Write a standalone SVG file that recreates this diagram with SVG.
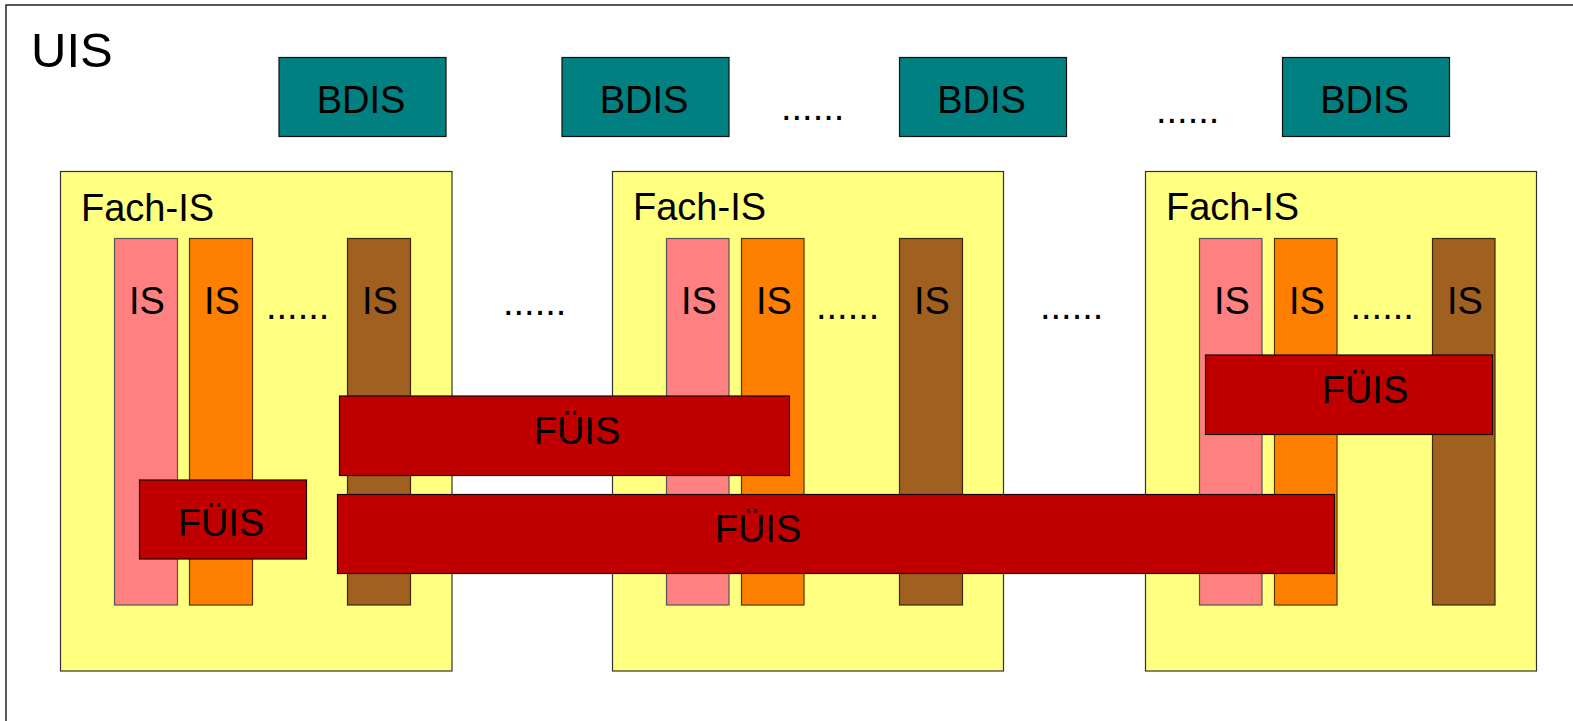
<svg xmlns="http://www.w3.org/2000/svg" width="1573" height="721" viewBox="0 0 1573 721">
<style>
text{font-family:"Liberation Sans",Arial,sans-serif;fill:#000;font-size:38px}
.mid{text-anchor:middle}
.frame{fill:#fff;stroke:#222;stroke-width:1.5}
.bdis{fill:#008080;stroke:#111;stroke-width:1.2}
.fach{fill:#FFFF80;stroke:#333;stroke-width:1.2}
.pink{fill:#FF8080;stroke:#555;stroke-width:1.2}
.orange{fill:#FF8000;stroke:#553300;stroke-width:1.2}
.brown{fill:#A06020;stroke:#40260c;stroke-width:1.2}
.fuis{fill:#C00000;stroke:#1a0000;stroke-width:1.2}
</style>
<rect x="0" y="0" width="1573" height="721" fill="#fff"/>
<g id="uis">
<rect class="frame" x="6" y="5" width="1600" height="760"/>
<text x="31" y="66.7" style="font-size:49px">UIS</text>
</g>
<g id="bdis1"><rect class="bdis" x="279" y="57.5" width="167" height="79"/><text class="mid" x="361" y="112.7">BDIS</text></g>
<g id="bdis2"><rect class="bdis" x="562" y="57.5" width="167" height="79"/><text class="mid" x="644" y="112.7">BDIS</text></g>
<g id="bdis3"><rect class="bdis" x="899.5" y="57.5" width="167" height="79"/><text class="mid" x="981.5" y="112.7">BDIS</text></g>
<g id="bdis4"><rect class="bdis" x="1282.5" y="57.5" width="167" height="79"/><text class="mid" x="1364.5" y="112.7">BDIS</text></g>
<g id="dots-top">
<text x="781" y="120">......</text>
<text x="1156" y="123">......</text>
</g>
<g id="fach1">
<rect class="fach" x="60.5" y="171.5" width="391.5" height="499.5"/>
<text x="81" y="220.5">Fach-IS</text>
<rect class="pink" x="114.5" y="238.5" width="63" height="366.5"/>
<text class="mid" x="147" y="314">IS</text>
<rect class="orange" x="189.5" y="238.5" width="63" height="366.5"/>
<text class="mid" x="222" y="314">IS</text>
<text x="266" y="319.3">......</text>
<rect class="brown" x="347.5" y="238.5" width="63" height="366.5"/>
<text class="mid" x="380" y="314">IS</text>
</g>
<g id="fach2">
<rect class="fach" x="612.5" y="171.5" width="391" height="499.5"/>
<text x="633" y="220">Fach-IS</text>
<rect class="pink" x="666.5" y="238.5" width="62.5" height="366.5"/>
<text class="mid" x="699" y="314">IS</text>
<rect class="orange" x="741.5" y="238.5" width="62.5" height="366.5"/>
<text class="mid" x="774" y="314">IS</text>
<text x="816" y="319.3">......</text>
<rect class="brown" x="899.5" y="238.5" width="63" height="366.5"/>
<text class="mid" x="932" y="314">IS</text>
</g>
<g id="fach3">
<rect class="fach" x="1145.5" y="171.5" width="391" height="499.5"/>
<text x="1166" y="220">Fach-IS</text>
<rect class="pink" x="1199.5" y="238.5" width="62.5" height="366.5"/>
<text class="mid" x="1232" y="314">IS</text>
<rect class="orange" x="1274.5" y="238.5" width="62.5" height="366.5"/>
<text class="mid" x="1307" y="314">IS</text>
<text x="1350.5" y="319.3">......</text>
<rect class="brown" x="1432.5" y="238.5" width="62.5" height="366.5"/>
<text class="mid" x="1465" y="314">IS</text>
</g>
<g id="dots-mid">
<text x="503" y="315">......</text>
<text x="1040" y="319.3">......</text>
</g>
<g id="fuis1"><rect class="fuis" x="339.5" y="396" width="450" height="79.5"/><text class="mid" x="577" y="444.3">FÜIS</text></g>
<g id="fuis-small"><rect class="fuis" x="139.5" y="480" width="167" height="79"/><text class="mid" x="221" y="535.7">FÜIS</text></g>
<g id="fuis2"><rect class="fuis" x="337.5" y="494.5" width="997" height="79"/><text class="mid" x="758" y="542.3">FÜIS</text></g>
<g id="fuis3"><rect class="fuis" x="1205.5" y="355" width="287" height="79.5"/><text class="mid" x="1365" y="402.7">FÜIS</text></g>
<g id="connectors"></g>
</svg>
